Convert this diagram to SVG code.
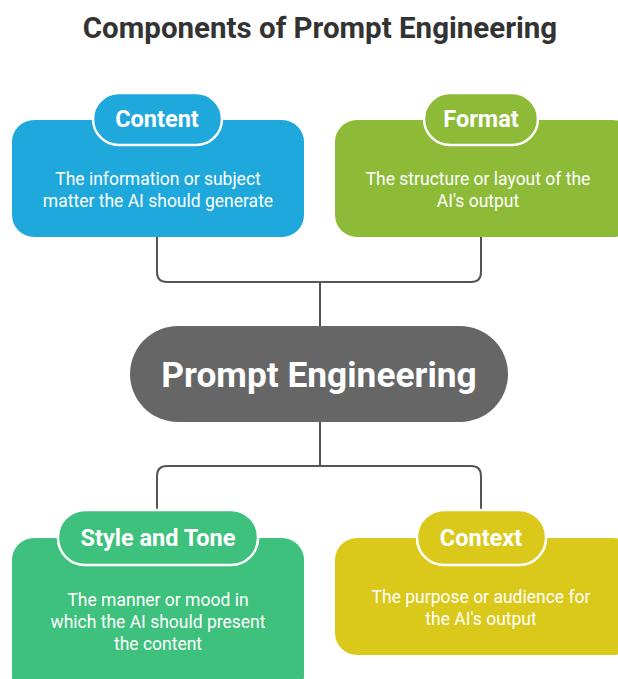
<svg xmlns="http://www.w3.org/2000/svg" width="618" height="679" viewBox="0 0 618 679">
<style>
.title{font-family:Roboto,"Liberation Sans",sans-serif;font-weight:bold;font-size:29.5px;fill:#333333;text-anchor:middle}
.head{font-family:Roboto,"Liberation Sans",sans-serif;font-weight:bold;font-size:23.5px;fill:#ffffff;text-anchor:middle}
.body{font-family:Roboto,"Liberation Sans",sans-serif;font-size:17.5px;fill:#ffffff;text-anchor:middle}
.center{font-family:Roboto,"Liberation Sans",sans-serif;font-weight:bold;font-size:35.3px;fill:#ffffff;text-anchor:middle}
.pill{stroke:#ffffff;stroke-width:2.5}
.conn{fill:none;stroke:#555555;stroke-width:2}
</style>
<rect width="618" height="679" fill="#ffffff"/>
<text class="title" x="320" y="38">Components of Prompt Engineering</text>
<g id="connectors">
<path class="conn" d="M157 237 V272 Q157 282 167 282 H471 Q481 282 481 272 V237"/>
<path class="conn" d="M320 282 V326"/>
<path class="conn" d="M320 422 V466"/>
<path class="conn" d="M157 510 V476 Q157 466 167 466 H471 Q481 466 481 476 V510"/>
</g>
<g id="content">
<rect x="12" y="120" width="292" height="117" rx="22" fill="#1EA8DB"/>
<rect class="pill" x="93" y="93" width="129" height="52" rx="26" fill="#1EA8DB"/>
<text class="head" x="157" y="127">Content</text>
<text class="body" x="158" y="185">The information or subject</text>
<text class="body" x="158" y="207">matter the AI should generate</text>
</g>
<g id="format">
<rect x="335" y="120" width="300" height="117" rx="22" fill="#8DBB38"/>
<rect class="pill" x="424" y="93" width="114" height="52" rx="26" fill="#8DBB38"/>
<text class="head" x="481" y="127">Format</text>
<text class="body" x="478" y="185">The structure or layout of the</text>
<text class="body" x="478" y="207">AI's output</text>
</g>
<g id="prompt-engineering">
<rect x="130" y="326" width="378" height="96" rx="48" fill="#666666"/>
<text class="center" x="319" y="387">Prompt Engineering</text>
</g>
<g id="style-and-tone">
<rect x="12" y="538" width="292" height="160" rx="22" fill="#3DC17C"/>
<rect class="pill" x="58" y="510" width="200" height="55" rx="27" fill="#3DC17C"/>
<text class="head" x="158" y="546">Style and Tone</text>
<text class="body" x="158" y="606">The manner or mood in</text>
<text class="body" x="158" y="628">which the AI should present</text>
<text class="body" x="158" y="650">the content</text>
</g>
<g id="context">
<rect x="335" y="538" width="300" height="117" rx="22" fill="#DAC81B"/>
<rect class="pill" x="417" y="510" width="129" height="55" rx="27" fill="#DAC81B"/>
<text class="head" x="481" y="546">Context</text>
<text class="body" x="481" y="603">The purpose or audience for</text>
<text class="body" x="481" y="625">the AI's output</text>
</g>
</svg>
